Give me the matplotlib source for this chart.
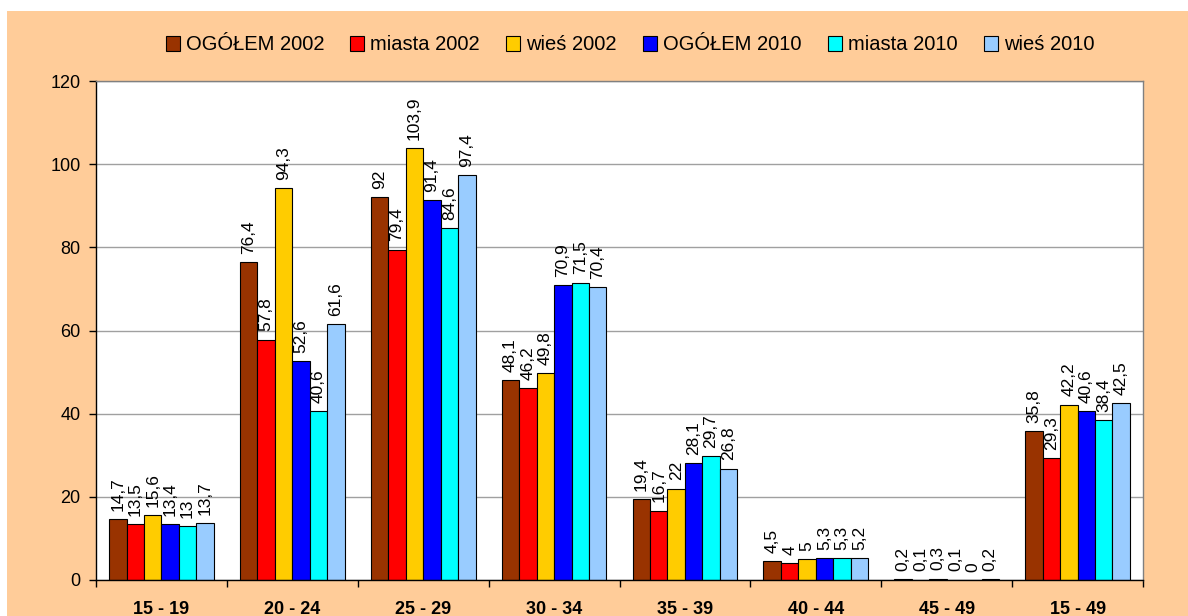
import numpy as np
import matplotlib.pyplot as plt
from matplotlib.patches import Rectangle

plt.rcParams['font.family'] = ['Liberation Sans', 'DejaVu Sans']

groups = ['15 - 19', '20 - 24', '25 - 29', '30 - 34', '35 - 39', '40 - 44', '45 - 49', '15 - 49']
series = ['OGÓŁEM 2002', 'miasta 2002', 'wieś 2002', 'OGÓŁEM 2010', 'miasta 2010', 'wieś 2010']
colors = ['#993300', '#FF0000', '#FFCC00', '#0000FF', '#00FFFF', '#99CCFF']

ogolem_2002 = [14.7, 76.4, 92, 48.1, 19.4, 4.5, 0.2, 35.8]
miasta_2002 = [13.5, 57.8, 79.4, 46.2, 16.7, 4, 0.1, 29.3]
wies_2002 = [15.6, 94.3, 103.9, 49.8, 22, 5, 0.3, 42.2]
ogolem_2010 = [13.4, 52.6, 91.4, 70.9, 28.1, 5.3, 0.1, 40.6]
miasta_2010 = [13, 40.6, 84.6, 71.5, 29.7, 5.3, 0, 38.4]
wies_2010 = [13.7, 61.6, 97.4, 70.4, 26.8, 5.2, 0.2, 42.5]
values = [ogolem_2002, miasta_2002, wies_2002, ogolem_2010, miasta_2010, wies_2010]


def fmt(v):
    if float(v).is_integer():
        return str(int(v))
    return ('%g' % v).replace('.', ',')


fig = plt.figure(figsize=(11.88, 6.16), dpi=100)
fig.patch.set_facecolor('white')
bg = Rectangle((7 / 1188, 0), 1, 1 - 11 / 616, transform=fig.transFigure,
               facecolor='#FFCC99', edgecolor='none', zorder=-1)
fig.add_artist(bg)

ax = fig.add_axes([96 / 1188, 36 / 616, (1143 - 96) / 1188, (580 - 81) / 616])
ax.set_zorder(1)
ax.set_facecolor('white')

X = np.arange(len(groups))
width = 0.8 / 6
for i in range(6):
    xs = X - 0.4 + width * (i + 0.5)
    ax.bar(xs, values[i], width=width, color=colors[i], edgecolor='black',
           linewidth=0.8, label=series[i], zorder=3)
    for x, v in zip(xs, values[i]):
        ax.annotate(fmt(v), (x, v), xytext=(0, 6), textcoords='offset points',
                    rotation=90, ha='center', va='bottom', fontsize=12.5, zorder=4)

ax.set_ylim(0, 120)
ax.set_yticks(range(0, 121, 20))
ax.set_xlim(-0.5, len(groups) - 0.5)
ax.set_xticks(X)
ax.set_xticklabels(groups, fontsize=13, fontweight='bold')
ax.set_xticks(np.arange(-0.5, len(groups)), minor=True)
ax.tick_params(axis='x', which='major', length=0, pad=15)
ax.tick_params(axis='x', which='minor', length=5, direction='out', width=1)
ax.tick_params(axis='y', length=5, direction='out', width=1, labelsize=13, pad=6)
ax.grid(axis='y', color='#A0A0A0', linewidth=1, zorder=0)

ax.spines['left'].set_color('black')
ax.spines['bottom'].set_color('black')
ax.spines['top'].set_color('#808080')
ax.spines['right'].set_color('#808080')
for s in ax.spines.values():
    s.set_linewidth(1)
    s.set_zorder(5)

fig.legend(loc='center', bbox_to_anchor=(630 / 1188, 1 - 45 / 616), ncol=6,
           frameon=False, fontsize=14.5, handlelength=0.7, handleheight=0.7,
           handletextpad=0.3, columnspacing=1.3)

fig.savefig('out.png', dpi=100)
